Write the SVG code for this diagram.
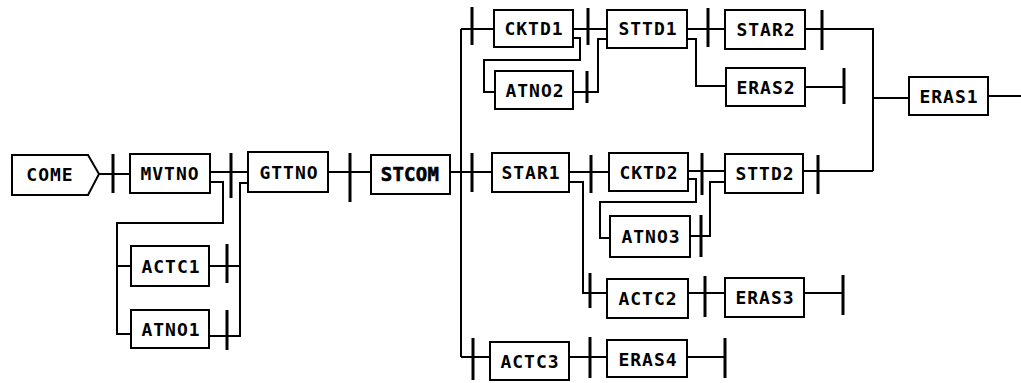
<svg xmlns="http://www.w3.org/2000/svg" width="1021" height="383" viewBox="0 0 1021 383">
<style>
.b{fill:#fff;stroke:#000;stroke-width:2}
.t{font-family:"DejaVu Sans Mono","Liberation Mono",monospace;font-size:18px;font-weight:bold;letter-spacing:1px;text-anchor:middle;fill:#000}
.s{font-size:19px;letter-spacing:0.3px;stroke:#000;stroke-width:0.6}
.c path{fill:none;stroke:#000;stroke-width:2}
.k line{stroke:#000;stroke-width:3}
</style>
<rect width="1021" height="383" fill="#fff"/>
<g class="c" id="connectors">
<path d="M99,174H130"/>
<path d="M210,172H248"/>
<path d="M210,182H223V223H117V334H131"/>
<path d="M117,266H131"/>
<path d="M209,266H240"/>
<path d="M209,336H240V183H248"/>
<path d="M328,172H371"/>
<path d="M450,172H492"/>
<path d="M461,29V357"/>
<path d="M461,29H494"/>
<path d="M573,29H607"/>
<path d="M573,38H580V60H484V92H495"/>
<path d="M573,92H598V39H607"/>
<path d="M687,29H725"/>
<path d="M687,39H696V86H726"/>
<path d="M805,29H873V171"/>
<path d="M805,87H844"/>
<path d="M873,98H909"/>
<path d="M988,96H1021"/>
<path d="M569,172H609"/>
<path d="M569,182H583V293H607"/>
<path d="M688,171H725"/>
<path d="M688,179H696V202H600V238H610"/>
<path d="M690,236H710V182H725"/>
<path d="M803,171H873"/>
<path d="M688,293H725"/>
<path d="M804,293H843"/>
<path d="M461,357H490"/>
<path d="M569,357H607"/>
<path d="M687,357H725"/>
</g>
<g class="k" id="ticks">
<line x1="113" y1="154" x2="113" y2="193"/>
<line x1="231" y1="153" x2="231" y2="198"/>
<line x1="227" y1="244" x2="227" y2="283"/>
<line x1="227" y1="310" x2="227" y2="350"/>
<line x1="350" y1="153" x2="350" y2="202"/>
<line x1="472" y1="153" x2="472" y2="192"/>
<line x1="472" y1="7" x2="472" y2="45"/>
<line x1="588" y1="8" x2="588" y2="45"/>
<line x1="587" y1="71" x2="587" y2="103"/>
<line x1="708" y1="8" x2="708" y2="47"/>
<line x1="822" y1="10" x2="822" y2="50"/>
<line x1="844" y1="68" x2="844" y2="104"/>
<line x1="591" y1="155" x2="591" y2="193"/>
<line x1="702" y1="153" x2="702" y2="195"/>
<line x1="701" y1="215" x2="701" y2="257"/>
<line x1="818" y1="155" x2="818" y2="194"/>
<line x1="590" y1="273" x2="590" y2="308"/>
<line x1="705" y1="276" x2="705" y2="317"/>
<line x1="843" y1="275" x2="843" y2="315"/>
<line x1="473" y1="338" x2="473" y2="380"/>
<line x1="590" y1="337" x2="590" y2="378"/>
<line x1="725" y1="338" x2="725" y2="378"/>
</g>
<g id="COME"><path class="b" d="M12,155H88L99,174L88,195H12Z"/><text class="t" x="50" y="181">COME</text></g>
<g id="MVTNO"><rect class="b" x="130" y="154" width="80" height="39"/><text class="t" x="170" y="180">MVTNO</text></g>
<g id="ACTC1"><rect class="b" x="131" y="246" width="78" height="40"/><text class="t" x="171" y="273">ACTC1</text></g>
<g id="ATNO1"><rect class="b" x="131" y="310" width="78" height="38"/><text class="t" x="171" y="336">ATNO1</text></g>
<g id="GTTNO"><rect class="b" x="248" y="152" width="80" height="40"/><text class="t" x="289" y="179">GTTNO</text></g>
<g id="STCOM"><rect class="b" x="371" y="155" width="79" height="39"/><text class="t s" x="410" y="181">STCOM</text></g>
<g id="CKTD1"><rect class="b" x="494" y="10" width="79" height="37"/><text class="t" x="534" y="35">CKTD1</text></g>
<g id="ATNO2"><rect class="b" x="495" y="71" width="78" height="38"/><text class="t" x="535" y="97">ATNO2</text></g>
<g id="STTD1"><rect class="b" x="607" y="10" width="80" height="38"/><text class="t" x="648" y="35">STTD1</text></g>
<g id="STAR2"><rect class="b" x="725" y="10" width="80" height="39"/><text class="t" x="766" y="36">STAR2</text></g>
<g id="ERAS2"><rect class="b" x="726" y="68" width="79" height="38"/><text class="t" x="766" y="94">ERAS2</text></g>
<g id="ERAS1"><rect class="b" x="909" y="77" width="79" height="38"/><text class="t" x="949" y="103">ERAS1</text></g>
<g id="STAR1"><rect class="b" x="492" y="153" width="77" height="39"/><text class="t" x="531" y="179">STAR1</text></g>
<g id="CKTD2"><rect class="b" x="609" y="153" width="79" height="38"/><text class="t" x="649" y="179">CKTD2</text></g>
<g id="ATNO3"><rect class="b" x="610" y="216" width="80" height="41"/><text class="t" x="651" y="243">ATNO3</text></g>
<g id="STTD2"><rect class="b" x="725" y="154" width="78" height="39"/><text class="t" x="765" y="180">STTD2</text></g>
<g id="ACTC2"><rect class="b" x="607" y="279" width="81" height="39"/><text class="t" x="648" y="305">ACTC2</text></g>
<g id="ERAS3"><rect class="b" x="725" y="278" width="79" height="39"/><text class="t" x="765" y="304">ERAS3</text></g>
<g id="ACTC3"><rect class="b" x="490" y="342" width="79" height="38"/><text class="t" x="530" y="368">ACTC3</text></g>
<g id="ERAS4"><rect class="b" x="607" y="340" width="80" height="37"/><text class="t" x="648" y="366">ERAS4</text></g>
</svg>
